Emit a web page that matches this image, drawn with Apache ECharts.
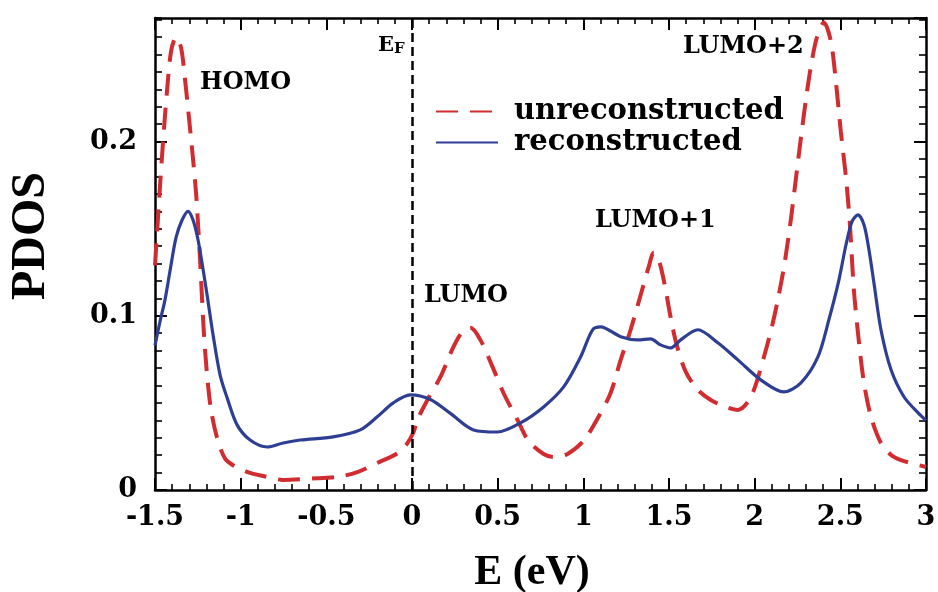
<!DOCTYPE html>
<html>
<head>
<meta charset="utf-8">
<script src="https://cdn.jsdelivr.net/npm/echarts@6/dist/echarts.min.js"></script>
<style>
html,body{margin:0;padding:0;background:#ffffff;}
#chart{width:938px;height:592px;}
</style>
</head>
<body>
<div id="chart"></div>
<script>
// ---- data ----
const seriesNames = ['unreconstructed', 'reconstructed'];

const unrecEnergy = [-1.5, -1.477, -1.453, -1.430, -1.406, -1.377, -1.348, -1.325, -1.301, -1.278, -1.260, -1.249, -1.237, -1.225, -1.214, -1.196, -1.173, -1.138, -1.091, -1.032, -0.945, -0.845, -0.752, -0.553, -0.436, -0.319, -0.203, -0.086, -0.033, 0.008,
  0.031, 0.090, 0.166, 0.242, 0.294, 0.341, 0.399, 0.470, 0.534, 0.616, 0.680, 0.768, 0.826, 0.908, 1.001, 1.083,
  1.159, 1.218, 1.276, 1.335, 1.382, 1.411, 1.440, 1.475, 1.510, 1.545, 1.598, 1.668, 1.744, 1.831, 1.902, 1.978,
  2.054, 2.106, 2.141, 2.176, 2.211, 2.240, 2.270, 2.299, 2.328, 2.363, 2.404,
  2.445, 2.474, 2.503, 2.533, 2.556, 2.579, 2.609, 2.638, 2.679, 2.737, 2.796, 2.854, 3.0];
const unrecPDOS = [0.129, 0.165, 0.200, 0.229, 0.252, 0.260, 0.254, 0.236, 0.213, 0.190, 0.170, 0.153, 0.132, 0.109, 0.089, 0.066, 0.046, 0.030, 0.018, 0.0135, 0.0098, 0.0075, 0.0058, 0.0068, 0.0075, 0.0103, 0.0155, 0.021, 0.026, 0.033,
  0.0402, 0.0517, 0.0649, 0.0822, 0.0908, 0.0931, 0.0862, 0.0707, 0.0557, 0.0402, 0.0282, 0.0207, 0.0190, 0.0207, 0.0282, 0.041,
  0.0557, 0.0747, 0.0920, 0.1121, 0.1282, 0.1362, 0.1322, 0.1178, 0.0989, 0.0833, 0.0678, 0.0575, 0.0517, 0.0477, 0.0460, 0.0534,
  0.0764, 0.0960, 0.1121, 0.1310, 0.1552, 0.1782, 0.2023, 0.2241, 0.2431, 0.2598, 0.2684,
  0.2575, 0.2345, 0.2057, 0.1793, 0.1523, 0.1149, 0.0845, 0.0615, 0.0420, 0.0270, 0.0201, 0.0172, 0.0132];

const recEnergy = [-1.5, -1.471, -1.442, -1.412, -1.377, -1.342, -1.307, -1.278, -1.249, -1.219, -1.196, -1.161, -1.120, -1.079, -1.021, -0.945, -0.845, -0.752, -0.653, -0.460, -0.302, -0.203, -0.109, -0.010,
  0.107, 0.224, 0.359, 0.499, 0.633, 0.768, 0.885, 0.984, 1.054, 1.101, 1.218, 1.317, 1.393, 1.451, 1.510, 1.568, 1.668, 1.785, 1.902, 2.036, 2.170, 2.270,
  2.369, 2.433, 2.492, 2.533, 2.568, 2.603, 2.638, 2.667, 2.696, 2.737, 2.796, 2.872, 2.954, 3.0];
const recPDOS = [0.083, 0.0966, 0.109, 0.126, 0.145, 0.155, 0.160, 0.155, 0.1437, 0.1264, 0.112, 0.089, 0.066, 0.0529, 0.0374, 0.0287, 0.0247, 0.027, 0.0287, 0.0305, 0.0345, 0.042, 0.050, 0.0546,
  0.052, 0.044, 0.0345, 0.0333, 0.0385, 0.0477, 0.0592, 0.0764, 0.092, 0.0937, 0.088, 0.0862, 0.0868, 0.0833, 0.0816, 0.0862, 0.092, 0.0845, 0.0747, 0.0632, 0.0563, 0.0615,
  0.0764, 0.0977, 0.1207, 0.1408, 0.154, 0.158, 0.1523, 0.138, 0.119, 0.092, 0.069, 0.0534, 0.0443, 0.040];

const fermiEnergy = 0;
const xMin = -1.5, xMax = 3, xStep = 0.5;
const yMin = 0, yMax = 0.271, yStep = 0.1, yMinorStep = 0.01;

const annotations = [
  { text: 'HOMO', x: 200, y: 83 },
  { text: 'LUMO', x: 424, y: 296 },
  { text: 'LUMO+1', x: 595, y: 221 },
  { text: 'LUMO+2', x: 683, y: 47 }
];

// ---- build ----
const zip = (xs, ys) => xs.map((x, i) => [x, ys[i]]);
const black = '#000000';
const serif = '"DejaVu Serif", serif';
const tickFont = { fontFamily: serif, fontWeight: 'bold', fontSize: 27, color: black };

function xAx(pos, labels) {
  return {
    type: 'value', min: xMin, max: xMax, interval: xStep, position: pos,
    axisLine: { show: true, onZero: false, lineStyle: { color: black, width: 2.5 } },
    axisTick: { show: true, inside: true, length: 12, lineStyle: { color: black, width: 2 } },
    minorTick: { show: true, splitNumber: 5, length: 6, lineStyle: { color: black, width: 1.6 } },
    splitLine: { show: false }, minorSplitLine: { show: false },
    axisLabel: labels ? Object.assign({ show: true, margin: 14, hideOverlap: false }, tickFont) : { show: false }
  };
}
function yAx(pos, step, line, tickLen, labels) {
  return {
    type: 'value', min: yMin, max: yMax, interval: step, position: pos,
    axisLine: { show: line, onZero: false, lineStyle: { color: black, width: 2.5 } },
    axisTick: { show: true, inside: true, length: tickLen, lineStyle: { color: black, width: step === yStep ? 2 : 1.6 } },
    splitLine: { show: false },
    axisLabel: labels ? Object.assign({
      show: true, margin: 18, showMaxLabel: false, hideOverlap: false,
      formatter: v => (Math.abs(v / yStep - Math.round(v / yStep)) < 1e-6 ? String(Math.round(v * 10) / 10) : '')
    }, tickFont) : { show: false }
  };
}

const graphics = annotations.map(a => ({
  type: 'text', x: a.x, y: a.y, silent: true,
  style: { text: a.text, fill: black, font: 'bold 24px ' + serif, align: 'left', verticalAlign: 'middle' }
}));
graphics.push(
  { type: 'text', x: 378, y: 46, silent: true, style: { text: 'E', fill: black, font: 'bold 21px ' + serif, align: 'left', verticalAlign: 'middle' } },
  { type: 'text', x: 394, y: 49, silent: true, style: { text: 'F', fill: black, font: 'bold 15px ' + serif, align: 'left', verticalAlign: 'middle' } },
  { type: 'text', x: 32, y: 236, rotation: Math.PI / 2, silent: true, style: { text: 'PDOS', fill: black, font: 'bold 48px "Liberation Serif", serif', align: 'center', verticalAlign: 'middle' } },
  { type: 'text', x: 532, y: 573, silent: true, style: { text: 'E (eV)', fill: black, font: 'bold 42px "Liberation Serif", serif', align: 'center', verticalAlign: 'middle' } }
);

const chart = echarts.init(document.getElementById('chart'), null, { renderer: 'canvas' });
chart.setOption({
  animation: false,
  backgroundColor: '#ffffff',
  grid: { left: 155, right: 12, top: 18, bottom: 102, containLabel: false, outerBoundsMode: 'none' },
  legend: {
    show: true, orient: 'vertical', left: 435, top: 97, padding: 0,
    itemWidth: 62, itemHeight: 14, itemGap: 2,
    itemStyle: { opacity: 0, borderWidth: 0 },
    textStyle: { fontFamily: serif, fontWeight: 'bold', fontSize: 29, color: black, lineHeight: 29, padding: [0, 0, 0, 11] },
    data: seriesNames
  },
  xAxis: [xAx('bottom', true), xAx('top', false)],
  yAxis: [
    yAx('left', yStep, true, 12, true),
    yAx('left', yMinorStep, false, 7, false),
    yAx('right', yStep, true, 12, false),
    yAx('right', yMinorStep, false, 7, false)
  ],
  series: [
    {
      name: seriesNames[0], type: 'line', xAxisIndex: 0, yAxisIndex: 0,
      data: zip(unrecEnergy, unrecPDOS), showSymbol: false, symbol: 'none', symbolSize: 0, smooth: 0.3,
      lineStyle: { color: '#d12c2f', width: 4, type: [22, 12] }, itemStyle: { color: '#d12c2f' }, z: 3
    },
    {
      name: seriesNames[1], type: 'line', xAxisIndex: 0, yAxisIndex: 0,
      data: zip(recEnergy, recPDOS), showSymbol: false, symbol: 'none', symbolSize: 0, smooth: 0.3,
      lineStyle: { color: '#2e3f93', width: 3.2 }, itemStyle: { color: '#2e3f93' }, z: 4,
      markLine: {
        silent: true, symbol: ['none', 'none'], label: { show: false },
        lineStyle: { color: black, width: 2.5, type: [9, 5] },
        data: [{ xAxis: fermiEnergy }]
      }
    }
  ],
  graphic: graphics
});
</script>
</body>
</html>
